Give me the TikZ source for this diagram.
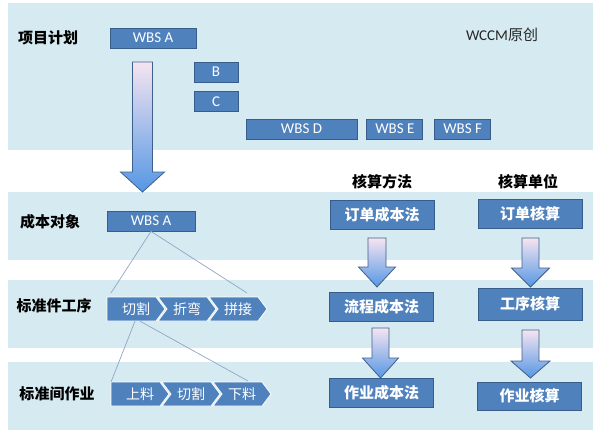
\documentclass[tikz,border=0pt]{standalone}
\usepackage{fontspec}
\setmainfont{Carlito}
\newfontfamily\cjk{Noto Sans CJK SC}
\usetikzlibrary{positioning}

\definecolor{bandblue}{HTML}{D6EBF1}
\definecolor{boxblue}{HTML}{4F81BD}
\definecolor{boxedge}{HTML}{385D8A}
\definecolor{linkgray}{HTML}{8FA6C4}
\definecolor{arrowtop}{HTML}{F6E4F1}
\definecolor{arrowbot}{HTML}{5597E4}
\definecolor{arrowedge}{HTML}{3E5F8A}

\begin{document}
\begin{tikzpicture}[x=1pt, y=-1pt,
    band/.style={fill=bandblue, draw=none},
    wbs/.style={fill=boxblue, draw=boxedge, line width=0.8pt, text=white, font=\fontsize{15}{15}\selectfont, minimum height=20pt, inner sep=0pt},
    method/.style={fill=boxblue, draw=boxedge, line width=1pt, text=white, font=\cjk\bfseries\fontsize{15}{15}\selectfont, minimum width=104pt, minimum height=29pt, inner sep=0pt},
    rowlabel/.style={font=\cjk\bfseries\fontsize{15}{15}\selectfont, text=black},
    chev/.style={fill=boxblue, draw=white, line width=0.8pt},
    chevtext/.style={text=white, font=\cjk\fontsize{14}{14}\selectfont, inner sep=0pt, minimum height=24pt},
    link/.style={draw=linkgray, line width=0.7pt},
    blockarrow/.style={top color=arrowtop, bottom color=arrowbot, draw=arrowedge, line width=0.8pt}]

    \useasboundingbox (0,0) rectangle (599,433);

    % light bands
    \fill[band] (8,3) rectangle (593,150); % project plan
    \fill[band] (8,192) rectangle (593,260); % cost object
    \fill[band] (8,280) rectangle (593,348); % standard process
    \fill[band] (8,362) rectangle (593,430); % standard work

    % block arrows (centre x / top / head start / tip / half shaft / half head)
    \foreach \cx/\top/\head/\tip/\sw/\hw in {142.5/62/172/192/10/22, 377/238/267/287/9/18.5, 530.5/238/268/287/8.5/19, 380.5/328/358/378/8.5/18, 530.5/330/361/378/8.5/19.5}
        \shade[blockarrow] (\cx-\sw,\top) -- (\cx+\sw,\top) -- (\cx+\sw,\head) -- (\cx+\hw,\head) -- (\cx,\tip) -- (\cx-\hw,\head) -- (\cx-\sw,\head) -- cycle;

    % row labels
    \node[rowlabel] (plan) at (48,38) {项目计划};
    \node[rowlabel] (object) at (50,222) {成本对象};
    \node[rowlabel] (stdproc) at (54,306) {标准件工序};
    \node[rowlabel] (stdwork) at (57,394) {标准间作业};
    \node[rowlabel] (calcmethod) at (382,182) {核算方法};
    \node[rowlabel] (calcunit) at (528,182) {核算单位};
    \node[font=\fontsize{15}{15}\selectfont, text=black!85] (mark) at (502,35) {WCCM{\cjk 原创}};

    % project plan WBS
    \node[wbs, minimum width=86pt] (wbsA) at (153,38) {WBS A};
    \node[wbs, minimum width=44pt] (wbsB) at (216,72) {B};
    \node[wbs, minimum width=44pt, below=9pt of wbsB] (wbsC) {C};
    \node[wbs, minimum width=111pt] (wbsD) at (301.5,129) {WBS D};
    \node[wbs, minimum width=56pt, right=9pt of wbsD] (wbsE) {WBS E};
    \node[wbs, minimum width=56pt, right=11pt of wbsE] (wbsF) {WBS F};

    % cost object
    \node[wbs, minimum width=88pt] (wbsobj) at (151,221) {WBS A};

    % standard part process
    \foreach \t [count=\i] in {切割,折弯,拼接} {
        \pgfmathsetmacro\lx{107+51*(\i-1)}
        \pgfmathsetmacro\notch{\i==1 ? 0 : 9}
        \filldraw[chev] (\lx,297) -- ++(49,0) -- ++(9,12) -- ++(-9,12) -- ++(-49,0) -- ++(\notch,-12) -- cycle;
        \node[chevtext] (proc\i) at (\lx+29,309) {\t};
    }

    % standard work
    \foreach \t [count=\i] in {上料,切割,下料} {
        \pgfmathsetmacro\lx{111+51*(\i-1)}
        \pgfmathsetmacro\notch{\i==1 ? 0 : 9}
        \filldraw[chev] (\lx,382) -- ++(49,0) -- ++(9,12) -- ++(-9,12) -- ++(-49,0) -- ++(\notch,-12) -- cycle;
        \node[chevtext] (act\i) at (\lx+29,394) {\t};
    }

    % breakdown lines
    \coordinate (procL) at (111,293);
    \coordinate (procR) at (247,293);
    \coordinate (actL) at (111,382);
    \coordinate (actR) at (248,381);
    \draw[link] (wbsobj.south) -- (procL);
    \draw[link] (wbsobj.south) -- (procR);
    \draw[link] ([xshift=-1pt]proc1.south) -- (actL);
    \draw[link] ([xshift=4pt]proc1.south) -- (actR);

    % costing methods and units
    \node[method] (ordcost) at (382,214.5) {订单成本法};
    \node[method] (flowcost) at (381.5,307) {流程成本法};
    \node[method] (actcost) at (381.5,392.5) {作业成本法};
    \node[method] (ordunit) at (530,213.5) {订单核算};
    \node[method, minimum height=32pt] (procunit) at (530,304) {工序核算};
    \node[method, minimum height=28pt] (actunit) at (529.5,396) {作业核算};

\end{tikzpicture}
\end{document}
